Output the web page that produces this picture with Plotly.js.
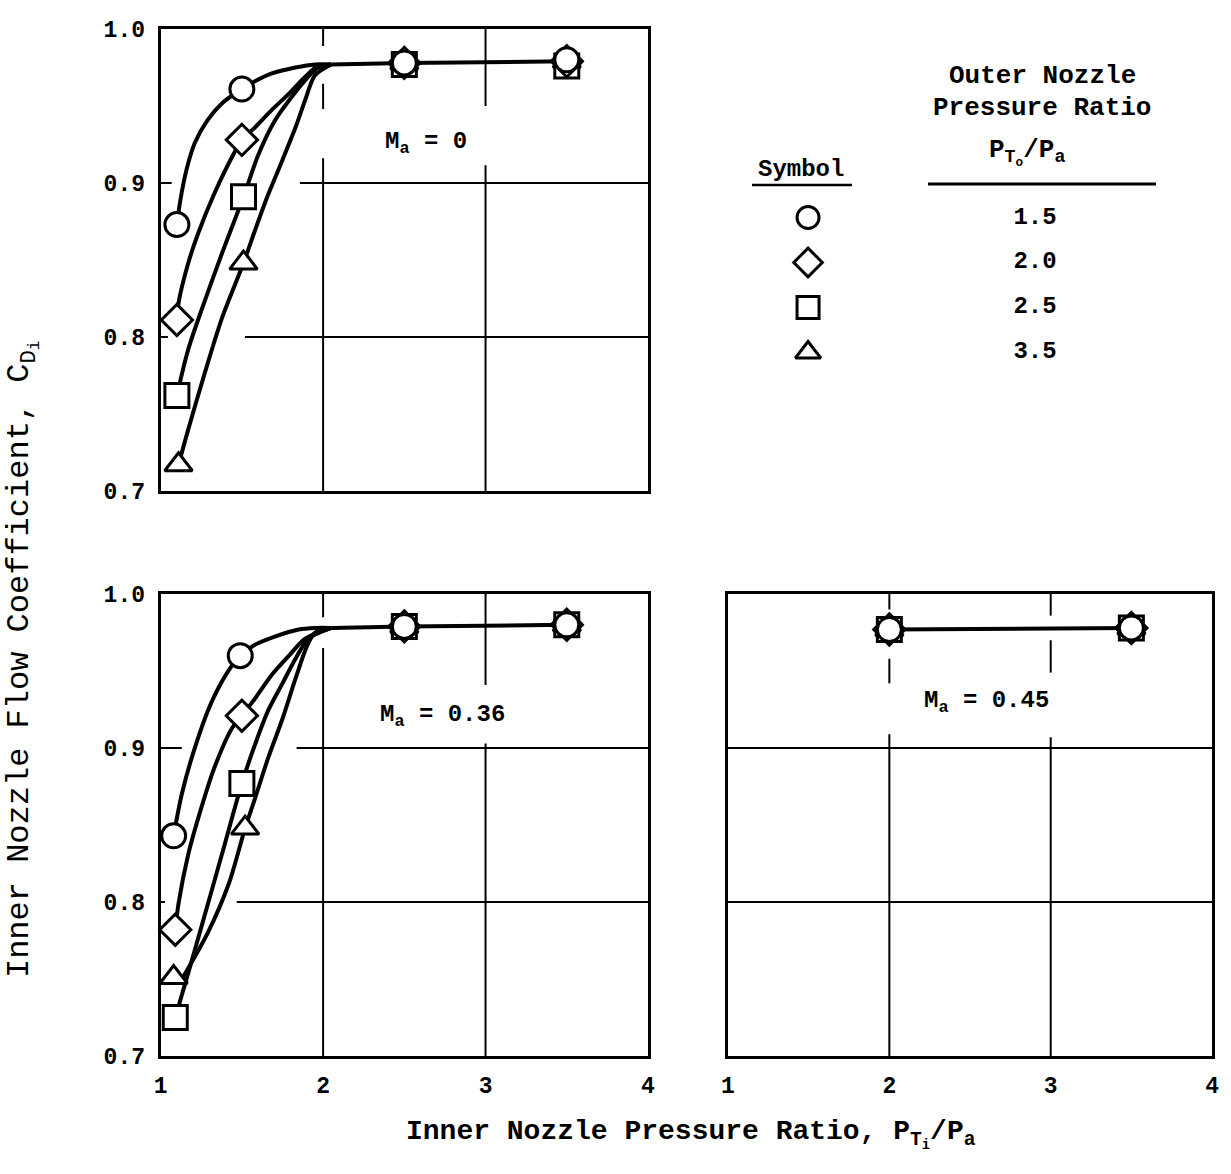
<!DOCTYPE html>
<html><head><meta charset="utf-8">
<script src="https://cdn.plot.ly/plotly-3.0.1.min.js"></script>
<style>html,body{margin:0;padding:0;background:#fff}#chart{width:1231px;height:1174px}</style>
</head><body><div id="chart"></div>
<script>
// ---------------- DATA ----------------
const symbolNames = ['circle', 'diamond', 'square', 'triangle-up'];
const outerRatioLabels = ['1.5', '2.0', '2.5', '3.5'];
const xTickVals = [1, 2, 3, 4];
const yTickVals = [0.7, 0.8, 0.9, 1.0];

// Ma = 0 : measured points
const ma0_circle_x  = [1.10, 1.50, 2.50, 3.50];
const ma0_circle_y  = [0.873, 0.961, 0.978, 0.980];
const ma0_diamond_x = [1.10, 1.50, 2.50, 3.50];
const ma0_diamond_y = [0.811, 0.928, 0.978, 0.979];
const ma0_square_x  = [1.10, 1.51, 2.50, 3.50];
const ma0_square_y  = [0.762, 0.891, 0.977, 0.976];
const ma0_tri_x     = [1.11, 1.51, 2.50, 3.50];
const ma0_tri_y     = [0.717, 0.848, 0.978, 0.979];
// Ma = 0 : faired curves
const ma0_circle_cx  = [1.10, 1.12, 1.16, 1.21, 1.29, 1.38, 1.50, 1.58, 1.68, 1.83, 1.95, 2.05];
const ma0_circle_cy  = [0.873, 0.888, 0.909, 0.926, 0.941, 0.952, 0.961, 0.966, 0.971, 0.975, 0.977, 0.977];
const ma0_diamond_cx = [1.10, 1.11, 1.17, 1.23, 1.33, 1.45, 1.50, 1.58, 1.68, 1.79, 1.89, 1.97, 2.05];
const ma0_diamond_cy = [0.811, 0.822, 0.848, 0.867, 0.893, 0.919, 0.928, 0.936, 0.947, 0.958, 0.969, 0.976, 0.977];
const ma0_square_cx  = [1.10, 1.17, 1.27, 1.38, 1.51, 1.60, 1.70, 1.80, 1.90, 1.97, 2.05];
const ma0_square_cy  = [0.762, 0.792, 0.823, 0.855, 0.891, 0.918, 0.940, 0.955, 0.968, 0.975, 0.977];
const ma0_tri_cx     = [1.11, 1.17, 1.27, 1.38, 1.51, 1.58, 1.66, 1.75, 1.83, 1.89, 1.95, 2.05];
const ma0_tri_cy     = [0.717, 0.740, 0.776, 0.813, 0.848, 0.869, 0.892, 0.915, 0.936, 0.954, 0.970, 0.977];

// Ma = 0.36 : measured points
const ma36_circle_x  = [1.08, 1.49, 2.50, 3.50];
const ma36_circle_y  = [0.843, 0.960, 0.979, 0.980];
const ma36_diamond_x = [1.09, 1.50, 2.50, 3.50];
const ma36_diamond_y = [0.782, 0.921, 0.979, 0.980];
const ma36_square_x  = [1.09, 1.50, 2.50, 3.50];
const ma36_square_y  = [0.725, 0.877, 0.979, 0.980];
const ma36_tri_x     = [1.08, 1.52, 2.50, 3.50];
const ma36_tri_y     = [0.751, 0.848, 0.979, 0.980];
// Ma = 0.36 : faired curves
const ma36_circle_cx  = [1.08, 1.13, 1.21, 1.31, 1.41, 1.49, 1.58, 1.72, 1.85, 1.95, 2.05];
const ma36_circle_cy  = [0.843, 0.870, 0.900, 0.929, 0.949, 0.960, 0.967, 0.973, 0.977, 0.978, 0.978];
const ma36_diamond_cx = [1.09, 1.11, 1.17, 1.23, 1.33, 1.44, 1.50, 1.58, 1.68, 1.79, 1.89, 2.05];
const ma36_diamond_cy = [0.782, 0.799, 0.831, 0.854, 0.887, 0.913, 0.921, 0.932, 0.947, 0.960, 0.971, 0.978];
const ma36_square_cx  = [1.09, 1.17, 1.27, 1.38, 1.50, 1.58, 1.66, 1.75, 1.83, 1.91, 2.05];
const ma36_square_cy  = [0.725, 0.754, 0.791, 0.832, 0.877, 0.902, 0.924, 0.942, 0.958, 0.971, 0.978];
const ma36_tri_cx     = [1.12, 1.29, 1.42, 1.52, 1.58, 1.66, 1.75, 1.83, 1.90, 1.95, 2.05];
const ma36_tri_cy     = [0.748, 0.780, 0.812, 0.848, 0.867, 0.893, 0.919, 0.945, 0.966, 0.975, 0.978];

// Ma = 0.45 : measured points (all four symbols coincide)
const ma45_x = [2.00, 3.50];
const ma45_circle_y  = [0.977, 0.978];
const ma45_diamond_y = [0.977, 0.978];
const ma45_square_y  = [0.977, 0.978];
const ma45_tri_y     = [0.977, 0.978];

// ---------------- BUILD ----------------
const FONT = 'Liberation Mono, Courier New, monospace';
const INK = '#000';
const traces = [];

function addCurve(xa, ya, x, y) {
  traces.push({type: 'scatter', mode: 'lines', x: x, y: y, xaxis: xa, yaxis: ya,
    line: {color: INK, width: 4, shape: 'spline', smoothing: 0.8}, hoverinfo: 'skip', showlegend: false});
}
function addMarkers(xa, ya, x, y, sym) {
  traces.push({type: 'scatter', mode: 'markers', x: x, y: y, xaxis: xa, yaxis: ya,
    marker: {symbol: sym, size: 24, color: '#fff', line: {color: INK, width: 3}},
    cliponaxis: false, showlegend: false});
}

const panels = [
  {xa: 'x', ya: 'y', curves: [[ma0_circle_cx, ma0_circle_cy], [ma0_diamond_cx, ma0_diamond_cy], [ma0_square_cx, ma0_square_cy], [ma0_tri_cx, ma0_tri_cy]],
   pts: [[ma0_circle_x, ma0_circle_y], [ma0_diamond_x, ma0_diamond_y], [ma0_square_x, ma0_square_y], [ma0_tri_x, ma0_tri_y]]},
  {xa: 'x2', ya: 'y2', curves: [[ma36_circle_cx, ma36_circle_cy], [ma36_diamond_cx, ma36_diamond_cy], [ma36_square_cx, ma36_square_cy], [ma36_tri_cx, ma36_tri_cy]],
   pts: [[ma36_circle_x, ma36_circle_y], [ma36_diamond_x, ma36_diamond_y], [ma36_square_x, ma36_square_y], [ma36_tri_x, ma36_tri_y]]},
  {xa: 'x3', ya: 'y3', curves: [[ma45_x, ma45_circle_y]],
   pts: [[ma45_x, ma45_circle_y], [ma45_x, ma45_diamond_y], [ma45_x, ma45_square_y], [ma45_x, ma45_tri_y]]}
];
panels.forEach(p => {
  p.curves.forEach(c => addCurve(p.xa, p.ya, c[0], c[1]));
});
// plateau lines (high pressure-ratio points) for panels 1 & 2
addCurve('x', 'y', [2.05, 2.50, 3.50], [0.977, ma0_circle_y[2], ma0_diamond_y[3]]);
addCurve('x2', 'y2', [2.05, 2.50, 3.50], [0.978, ma36_circle_y[2], ma36_circle_y[3]]);
// markers: triangle first, circle last
panels.forEach(p => {
  [3, 2, 1, 0].forEach(i => addMarkers(p.xa, p.ya, p.pts[i][0], p.pts[i][1], symbolNames[i]));
});

// legend table (symbols + values) on its own hidden axes
const rowIdx = outerRatioLabels.map((_, i) => i);
traces.push({type: 'scatter', mode: 'markers', xaxis: 'x4', yaxis: 'y4',
  x: rowIdx.map(() => 0.216), y: rowIdx,
  marker: {symbol: symbolNames, size: 22, color: '#fff', line: {color: INK, width: 3}},
  cliponaxis: false, showlegend: false, hoverinfo: 'skip'});
traces.push({type: 'scatter', mode: 'text', xaxis: 'x4', yaxis: 'y4',
  x: rowIdx.map(() => 0.67), y: rowIdx, text: outerRatioLabels, textposition: 'middle center',
  textfont: {family: FONT, size: 24, color: INK, weight: 'bold'}, cliponaxis: false, showlegend: false, hoverinfo: 'skip'});

// ---------------- LAYOUT ----------------
const tf = (s, w) => ({family: FONT, size: s, color: INK, weight: w || 'bold'});
const axBase = {showline: true, mirror: true, linewidth: 3, linecolor: INK, ticks: '',
  showgrid: false, zeroline: false, fixedrange: true, tickfont: tf(23)};
const xAx = (dom, anchor, showLabels) => Object.assign({}, axBase, {domain: dom, anchor: anchor,
  range: [1, 4], tickvals: xTickVals, ticktext: xTickVals.map(String), showticklabels: showLabels, ticklabelstandoff: 6});
const yAx = (dom, anchor, showLabels) => Object.assign({}, axBase, {domain: dom, anchor: anchor,
  range: [0.7, 1.0], tickvals: yTickVals, ticktext: yTickVals.map(v => v.toFixed(1)), showticklabels: showLabels, ticklabelstandoff: 8});

const leftX = [0.1305, 0.5264], rightX = [0.5914, 0.9846];
const topY = [0.5818, 0.9753], botY = [0.1005, 0.4940];

// interrupted grid lines (as hand-drawn in the reference)
const gridSpec = [
  {xa: 'x', ya: 'y', v: {2: [[1.0, 0.989], [0.9645, 0.948], [0.916, 0.7]], 3: [[1.0, 0.95], [0.9115, 0.7]]},
   h: {0.9: [[1, 1.068], [1.857, 4]], 0.8: [[1, 1.045], [1.519, 4]]}},
  {xa: 'x2', ya: 'y2', v: {2: [[1.0, 0.985], [0.965, 0.7]], 3: [[1.0, 0.941], [0.903, 0.7]]},
   h: {0.9: [[1, 1.13], [1.837, 4]], 0.8: [[1, 1.027], [1.468, 4]]}},
  {xa: 'x3', ya: 'y3', v: {2: [[1.0, 0.99], [0.958, 0.942], [0.909, 0.7]], 3: [[1.0, 0.986], [0.970, 0.949], [0.907, 0.7]]},
   h: {0.9: [[1, 4]], 0.8: [[1, 4]]}}
];
const shapes = [];
gridSpec.forEach(g => {
  Object.keys(g.v).forEach(k => g.v[k].forEach(s => shapes.push({type: 'line', xref: g.xa, yref: g.ya, layer: 'below',
    x0: +k, x1: +k, y0: s[0], y1: s[1], line: {color: INK, width: 2}})));
  Object.keys(g.h).forEach(k => g.h[k].forEach(s => shapes.push({type: 'line', xref: g.xa, yref: g.ya, layer: 'below',
    x0: s[0], x1: s[1], y0: +k, y1: +k, line: {color: INK, width: 2}})));
});
// legend rules
shapes.push({type: 'line', xref: 'paper', yref: 'paper', x0: 0.6109, x1: 0.6921, y0: 0.8424, y1: 0.8424, line: {color: INK, width: 2.5}});
shapes.push({type: 'line', xref: 'paper', yref: 'paper', x0: 0.7539, x1: 0.9391, y0: 0.8433, y1: 0.8433, line: {color: INK, width: 3}});

const annotations = [
  {xref: 'x', yref: 'y', x: 2.37, y: 0.926, xanchor: 'left', yanchor: 'middle', showarrow: false, text: 'M<sub>a</sub> = 0', font: tf(24)},
  {xref: 'x2', yref: 'y2', x: 2.34, y: 0.921, xanchor: 'left', yanchor: 'middle', showarrow: false, text: 'M<sub>a</sub> = 0.36', font: tf(24)},
  {xref: 'x3', yref: 'y3', x: 2.20, y: 0.930, xanchor: 'left', yanchor: 'middle', showarrow: false, text: 'M<sub>a</sub> = 0.45', font: tf(24)},
  {xref: 'paper', yref: 'paper', x: 0.5615, y: 0.034, xanchor: 'center', yanchor: 'middle', showarrow: false,
   text: 'Inner Nozzle Pressure Ratio, P<sub>T<sub>i</sub></sub>/P<sub>a</sub>', font: tf(28)},
  {xref: 'paper', yref: 'paper', x: 0.0179, y: 0.4378, xanchor: 'center', yanchor: 'middle', showarrow: false, textangle: -90,
   text: 'Inner Nozzle Flow Coefficient, C<sub>D<sub>i</sub></sub>', font: tf(32, 'normal')},
  {xref: 'paper', yref: 'paper', x: 0.8465, y: 0.9353, xanchor: 'center', yanchor: 'middle', showarrow: false, text: 'Outer Nozzle', font: tf(26)},
  {xref: 'paper', yref: 'paper', x: 0.8465, y: 0.9080, xanchor: 'center', yanchor: 'middle', showarrow: false, text: 'Pressure Ratio', font: tf(26)},
  {xref: 'paper', yref: 'paper', x: 0.8343, y: 0.8700, xanchor: 'center', yanchor: 'middle', showarrow: false, text: 'P<sub>T<sub>o</sub></sub>/P<sub>a</sub>', font: tf(26)},
  {xref: 'paper', yref: 'paper', x: 0.6507, y: 0.8552, xanchor: 'center', yanchor: 'middle', showarrow: false, text: 'Symbol', font: tf(24)}
];

const layout = {
  width: 1231, height: 1174, margin: {l: 0, r: 0, t: 0, b: 0},
  paper_bgcolor: '#fff', plot_bgcolor: '#fff', showlegend: false,
  font: {family: FONT, color: INK},
  xaxis: xAx(leftX, 'y', false), yaxis: yAx(topY, 'x', true),
  xaxis2: xAx(leftX, 'y2', true), yaxis2: yAx(botY, 'x2', true),
  xaxis3: xAx(rightX, 'y3', true), yaxis3: yAx(botY, 'x3', false),
  xaxis4: {domain: [0.5687, 0.9748], anchor: 'y4', range: [0, 1], visible: false, fixedrange: true},
  yaxis4: {domain: [0.6806, 0.8339], anchor: 'x4', range: [3.5, -0.5], visible: false, fixedrange: true},
  shapes: shapes, annotations: annotations
};

Plotly.newPlot('chart', traces, layout, {displayModeBar: false, staticPlot: true});
</script>
</body></html>
